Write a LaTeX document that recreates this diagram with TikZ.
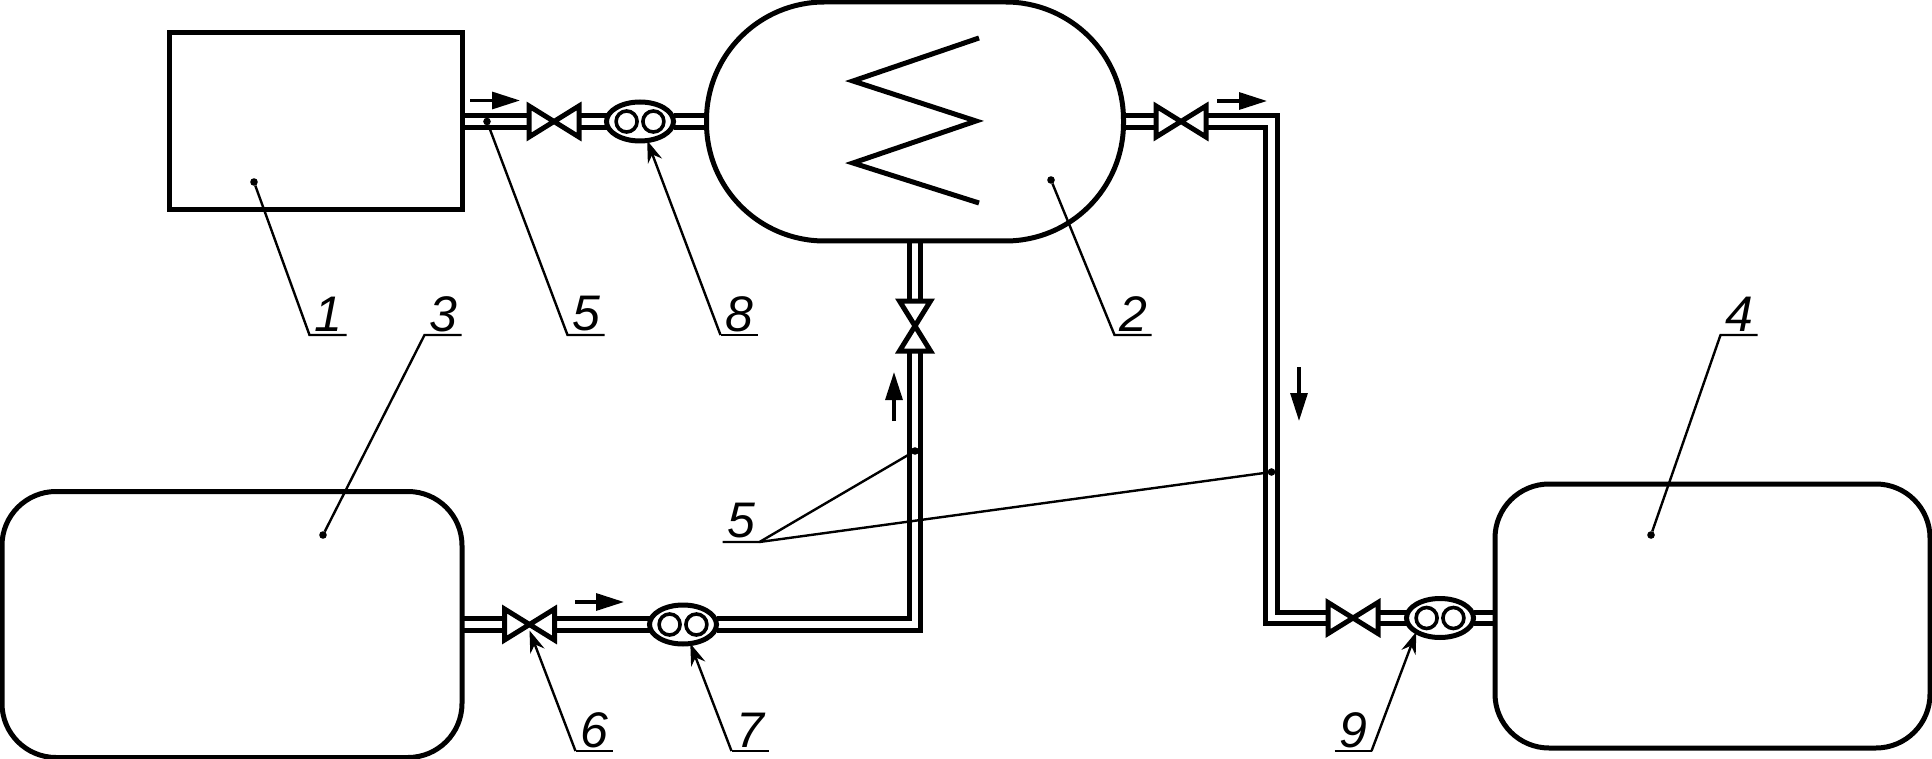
\documentclass[tikz,border=0pt]{standalone}
\usepackage{fontspec}
\setmainfont{Liberation Sans}
\usetikzlibrary{arrows.meta,shapes.geometric,backgrounds}

\begin{document}
\begin{tikzpicture}[
  x=0.5pt, y=-0.5pt,
  vessel/.style={draw, line width=2.5pt, inner sep=0pt, outer sep=0pt},
  pipe/.style={line width=2.5pt, double, double distance=3.2pt},
  valveh/.style={minimum width=25pt, minimum height=15.5pt, inner sep=0pt, outer sep=0pt},
  valvev/.style={minimum width=15.5pt, minimum height=25pt, inner sep=0pt, outer sep=0pt},
  valveline/.style={line width=2.5pt, miter limit=10},
  pump/.style={draw, ellipse, line width=2.5pt, fill=white, minimum width=33.5pt, minimum height=19.5pt, inner sep=0pt, outer sep=0pt},
  rotor/.style={draw, circle, line width=1.8pt, minimum size=10.5pt, inner sep=0pt, outer sep=0pt},
  flow/.style={line width=1.6pt, -{Triangle[length=14pt,width=8.5pt]}},
  leader/.style={line width=1.2pt},
  tipped/.style={leader, -{Stealth[length=11pt,width=7.5pt]}},
  lbl/.style={font=\itshape\fontsize{25pt}{26pt}\selectfont, minimum width=18.5pt, minimum height=21pt, inner sep=0pt, outer sep=0pt},
  dot/.style={circle, fill, minimum size=3.8pt, inner sep=0pt, outer sep=0pt}
]
\useasboundingbox (0,0) rectangle (1932,759);

%--------------------------------------------------
% apparatus
%--------------------------------------------------
\node[vessel, minimum width=146.5pt, minimum height=88.5pt] (box1) at (315.5,121.5) {};
\node[vessel, minimum width=208.5pt, minimum height=119.5pt, rounded corners=59pt] (box2) at (915,121.5) {};
\node[vessel, minimum width=230pt, minimum height=133pt, rounded corners=27pt] (box3) at (232,624.5) {};
\node[vessel, minimum width=217.5pt, minimum height=132pt, rounded corners=27pt] (box4) at (1712.5,616) {};

% coil inside box2
\draw[line width=2.5pt, miter limit=10] (979,38) -- (853,81) -- (976,121) -- (853,163) -- (979,203);

%--------------------------------------------------
% valves and pumps
%--------------------------------------------------
\node[valveh] (v1) at (554,121.5) {};
\node[valveh] (v2) at (1181,121.5) {};
\node[valvev] (v3) at (915,326) {};
\node[valveh] (v4) at (529.5,624.5) {};
\node[valveh] (v5) at (1353,618) {};

\foreach \v in {v1,v2,v4,v5}
  \draw[valveline] (\v.north west) -- (\v.south east) -- (\v.north east) -- (\v.south west) -- cycle;
\draw[valveline] (v3.north west) -- (v3.north east) -- (v3.south west) -- (v3.south east) -- cycle;

\node[pump] (p8) at (640,121.5) {};
\node[pump] (p7) at (683,624.5) {};
\node[pump] (p9) at (1440,618) {};

\foreach \p in {p7,p8,p9} {
  \node[rotor] (\p a) at ([xshift=-6.7pt]\p.center) {};
  \node[rotor] (\p b) at ([xshift=6.7pt]\p.center) {};
}

%--------------------------------------------------
% pipes
%--------------------------------------------------
\coordinate (c1) at (1271.5,121.5);
\coordinate (c2) at (1271.5,618);
\coordinate (c3) at (915,624.5);

\begin{scope}[on background layer]
\draw[pipe] (box1.east) -- (v1.west);
\draw[pipe] (v1.east) -- (p8.west);
\draw[pipe] (p8.east) -- (box2.west);
\draw[pipe] (box2.east) -- (v2.west);
\draw[pipe] (v2.east) -- (c1) -- (c2) -- (v5.west);
\draw[pipe] (v5.east) -- (p9.west);
\draw[pipe] (p9.east) -- (p9.east -| box4.west);
\draw[pipe] (box2.south) -- (v3.north);
\draw[pipe] (v3.south) -- (c3) -- (p7.east);
\draw[pipe] (p7.west) -- (v4.east);
\draw[pipe] (v4.west) -- (box3.east);
\end{scope}

%--------------------------------------------------
% flow arrows
%--------------------------------------------------
\coordinate (f1a) at (470,100.5);  \coordinate (f1b) at (520,100.5);
\coordinate (f2a) at (1217,101);   \coordinate (f2b) at (1267,101);
\coordinate (f3a) at (894,421);    \coordinate (f3b) at (894,372);
\coordinate (f4a) at (575,602);    \coordinate (f4b) at (624,602);
\coordinate (f5a) at (1299,367);   \coordinate (f5b) at (1299,421);
\foreach \f in {f1,f2,f3,f4,f5}
  \draw[flow] (\f a) -- (\f b);

%--------------------------------------------------
% position labels
%--------------------------------------------------
\node[lbl] (n1) at (328,314) {1};
\node[lbl] (n2) at (1133,314) {2};
\node[lbl] (n3) at (443,314) {3};
\node[lbl] (n4) at (1739,314) {4};
\node[lbl] (n5) at (586,314) {5};
\node[lbl] (n5b) at (741,521) {5};
\node[lbl] (n6) at (594,730) {6};
\node[lbl] (n7) at (750,730) {7};
\node[lbl] (n8) at (739,314) {8};
\node[lbl] (n9) at (1353,730) {9};

% dots on the parts
\node[dot] (d1) at (254,182) {};
\node[dot] (d2) at (1051,180) {};
\node[dot] (d3) at (323,535) {};
\node[dot] (d4) at (1651,535) {};
\node[dot] (d5) at (487,121.5) {};
\node[dot] (d5a) at (915,451) {};
\node[dot] (d5b) at (1271.5,472) {};

% leaders
\draw[leader] (d1) -- (n1.south west) -- (n1.south east);
\draw[leader] (d2) -- (n2.south west) -- (n2.south east);
\draw[leader] (d3) -- (n3.south west) -- (n3.south east);
\draw[leader] (d4) -- (n4.south west) -- (n4.south east);
\draw[leader] (d5) -- (n5.south west) -- (n5.south east);
\draw[leader] (n5b.south west) -- (n5b.south east) -- (d5a);
\draw[leader] (n5b.south east) -- (d5b);
\draw[leader] (n6.south west) -- (n6.south east);
\draw[leader] (n7.south west) -- (n7.south east);
\draw[leader] (n8.south west) -- (n8.south east);
\draw[leader] (n9.south west) -- (n9.south east);
\draw[tipped] (n6.south west) -- ([yshift=-3pt]v4.center);
\draw[tipped] (n7.south west) -- (p7);
\draw[tipped] (n8.south west) -- (p8);
\draw[tipped] (n9.south east) -- (p9.south west);

\end{tikzpicture}
\end{document}
